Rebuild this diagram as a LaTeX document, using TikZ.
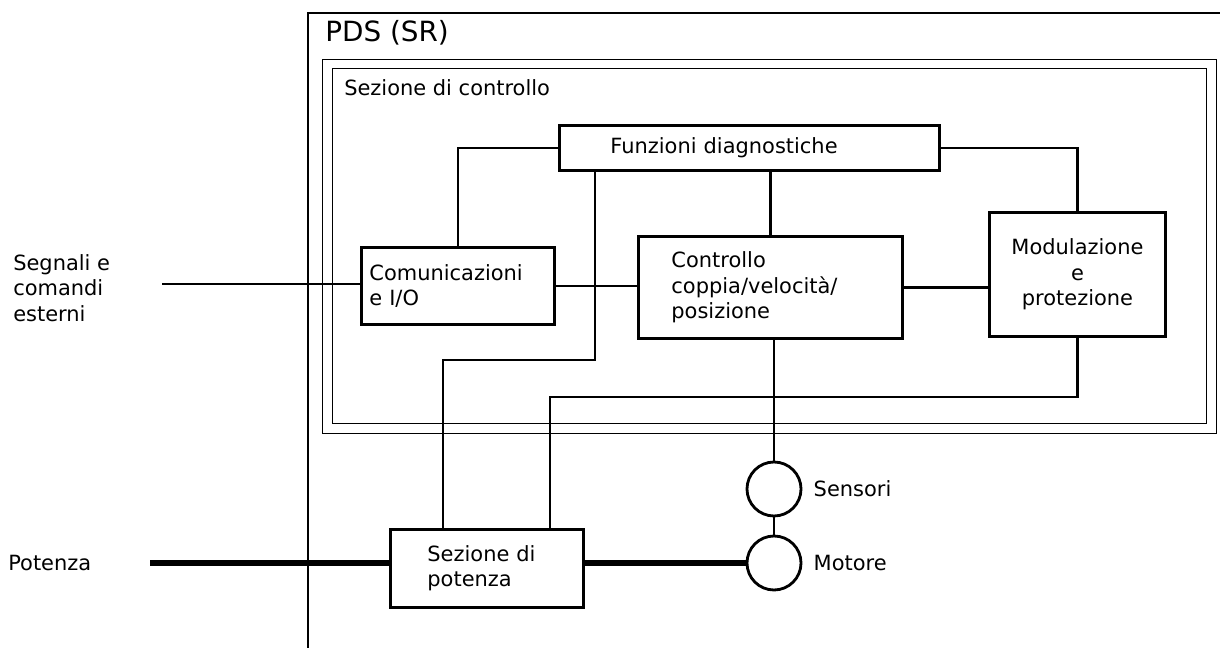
\documentclass[tikz,border=0pt]{standalone}
\usepackage{fontspec}
\setmainfont{DejaVu Sans}
\usetikzlibrary{positioning}
\newcommand{\blocktext}{\fontsize{14.9}{18.1}\selectfont}
\newcommand{\titletext}{\fontsize{19.8}{22}\selectfont}

\begin{document}
\begin{tikzpicture}[x=0.025cm, y=-0.025cm,
	block/.style={draw, line width=2pt, anchor=north west, font=\blocktext},
	wire/.style={line width=2pt},
	powerwire/.style={line width=3.8pt},
	sensor/.style={draw, circle, line width=2pt, minimum size=1.35cm, inner sep=0pt}]
	\useasboundingbox (0,0) rectangle (1220,648);

	% PDS frame
	\draw[line width=2pt] (308,648) |- (1220,13);
	\node(pds) [anchor=west, inner sep=0pt, font=\titletext] at (325,33) {PDS (SR)};

	%--------------------------------------------------------------------
	\node(ctrlsec) [draw, double, double distance=0.21cm, line width=0.7pt, anchor=north west, minimum width=22.09cm, minimum height=9.11cm, inner sep=0pt] at (327,63.5) {};
	\node(ctrltitle) [anchor=west, inner sep=0pt, font=\blocktext] at (344,88) {Sezione di controllo};

	\node(funz) [block, text width=6.95cm, inner xsep=1.275cm, minimum height=1.125cm, align=left] at (558,124) {Funzioni diagnostiche};
	\node(comm) [block, text width=4.425cm, inner xsep=0.2cm, minimum height=1.925cm, align=left] at (360,246) {Comunicazioni\\ e I/O};
	\node(ctrl) [block, text width=4.95cm, inner xsep=0.825cm, minimum height=2.55cm, align=left] at (637,235) {Controllo\\ coppia/velocità/\\ posizione};
	\node(modu) [block, minimum width=4.4cm, minimum height=3.1cm, align=center] at (988,211) {Modulazione\\ e\\ protezione};

	%--------------------------------------------------------------------
	\node(pot) [block, text width=2.975cm, inner xsep=0.925cm, minimum height=1.95cm, align=left] at (389,528) {Sezione di\\ potenza};
	\node(sens) [sensor] at (774,489) {};
	\node(moto) [sensor] at (774,563) {};
	\node(senstxt) [right=0.275cm of sens, inner sep=0pt, font=\blocktext] {Sensori};
	\node(mototxt) [right=0.275cm of moto, inner sep=0pt, font=\blocktext] {Motore};

	% external inputs
	\node(sig) [anchor=west, inner sep=0pt, align=left, font=\blocktext] at (13,288) {Segnali e\\ comandi\\ esterni};
	\node(pwr) [anchor=west, inner sep=0pt, font=\blocktext] at (8,563) {Potenza};
	\coordinate (sigin) at (162,284);
	\coordinate (pwrin) at (150,563);

	%--------------------------------------------------------------------
	\draw[wire] (sigin) -- (sigin -| comm.west);
	\draw[wire] (comm.north) |- (funz.west);
	\draw[wire] (comm.east) -- (comm.east -| ctrl.west);
	\draw[wire] (ctrl.north) -- (ctrl.north |- funz.south);
	\draw[wire] (funz.east) -| (modu.north);
	\draw[wire] (ctrl.east) -- (ctrl.east -| modu.west);
	\draw[wire] (funz.south -| 595,0) |- (443,360) -- (pot.north -| 443,0);
	\draw[wire] (modu.south) |- (550,397) -- (pot.north -| 550,0);
	\draw[wire] (sens.north |- ctrl.south) -- (sens.north);
	\draw[wire] (sens.south) -- (moto.north);
	\draw[powerwire] (pwrin) -- (pwrin -| pot.west);
	\draw[powerwire] (moto.west -| pot.east) -- (moto.west);
\end{tikzpicture}
\end{document}
